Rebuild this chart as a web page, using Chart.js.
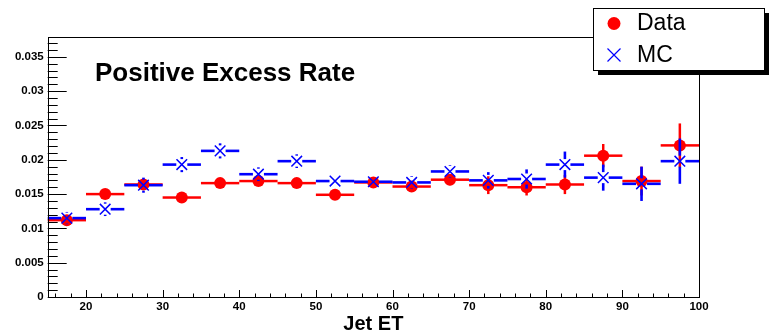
<!DOCTYPE html>
<html>
<head>
<meta charset="utf-8">
<script src="https://cdn.jsdelivr.net/npm/chart.js@4/dist/chart.umd.min.js"></script>
<style>
  html, body { margin: 0; padding: 0; background: #fff; }
  #wrap { width: 775px; height: 335px; position: relative; }
</style>
</head>
<body>
<div id="wrap"><canvas id="c" width="775" height="335"></canvas></div>
<script>
/* Positive excess rate vs Jet ET — Data vs MC, ROOT style */

var binCenters = [17.5, 22.5, 27.5, 32.5, 37.5, 42.5, 47.5, 52.5, 57.5, 62.5, 67.5, 72.5, 77.5, 82.5, 87.5, 92.5, 97.5];
var binHalfWidth = 2.5;

var dataRate = [0.0112, 0.0150, 0.0164, 0.0145, 0.0166, 0.0169, 0.0166, 0.0149, 0.0167, 0.0161, 0.0171, 0.0163, 0.0160, 0.0164, 0.0206, 0.0169, 0.0221];
var dataErr  = [0.0005, 0.0005, 0.0006, 0.0005, 0.0005, 0.0006, 0.0006, 0.0006, 0.0007, 0.0007, 0.0008, 0.0013, 0.0012, 0.0014, 0.0017, 0.0021, 0.0032];

var mcRate = [0.0115, 0.0128, 0.0163, 0.0193, 0.0213, 0.0179, 0.0198, 0.0169, 0.0168, 0.0167, 0.0183, 0.0170, 0.0172, 0.0193, 0.0174, 0.0165, 0.0198];
var mcErr  = [0.0009, 0.0010, 0.0011, 0.0011, 0.0011, 0.0010, 0.0010, 0.0008, 0.0008, 0.0009, 0.0009, 0.0012, 0.0014, 0.0019, 0.0019, 0.0025, 0.0033];

var xTickValues = [20, 30, 40, 50, 60, 70, 80, 90, 100];
var yTickValues = [0, 0.005, 0.01, 0.015, 0.02, 0.025, 0.03, 0.035];

var FONT = '"Liberation Sans", Arial, Helvetica, sans-serif';

function toPoints(ys) {
  return binCenters.map(function(x, i){ return { x: x, y: ys[i] }; });
}

// bin-width + vertical error bars, with a gap round the marker (like ROOT)
var errorBars = {
  id: 'errorBars',
  beforeDatasetDraw: function(chart, args) {
    var ds = chart.data.datasets[args.index];
    var xs = chart.scales.x, ys = chart.scales.y, ctx = chart.ctx;
    var gap = ds.errGap;
    function seg(a, b, c, d) { ctx.beginPath(); ctx.moveTo(a, b); ctx.lineTo(c, d); ctx.stroke(); }
    ctx.save();
    ctx.strokeStyle = ds.borderColor;
    ctx.lineWidth = ds.errWidth;
    ds.data.forEach(function(p, i) {
      var cx = xs.getPixelForValue(p.x), cy = ys.getPixelForValue(p.y);
      var x0 = xs.getPixelForValue(p.x - binHalfWidth), x1 = xs.getPixelForValue(p.x + binHalfWidth);
      var yTop = ys.getPixelForValue(p.y + ds.errors[i]), yBot = ys.getPixelForValue(p.y - ds.errors[i]);
      seg(x0, cy, cx - gap, cy);
      seg(cx + gap, cy, x1, cy);
      if (cy - gap > yTop) seg(cx, yTop, cx, cy - gap);
      if (yBot > cy + gap) seg(cx, cy + gap, cx, yBot);
    });
    ctx.restore();
  }
};

// frame, inward ticks, title and legend box
var rootFrame = {
  id: 'rootFrame',
  afterDraw: function(chart) {
    var ctx = chart.ctx, a = chart.chartArea;
    var xs = chart.scales.x, ys = chart.scales.y;
    var v, p;
    ctx.save();
    ctx.strokeStyle = '#000';
    ctx.lineWidth = 1;
    ctx.strokeRect(Math.round(a.left) + 0.5, Math.round(a.top) + 0.5, Math.round(a.right - a.left), Math.round(a.bottom - a.top));

    ctx.beginPath();
    for (v = 0; v <= ys.max + 1e-9; v += 0.001) {
      p = Math.round(ys.getPixelForValue(v)) + 0.5;
      var major = Math.abs(v / 0.005 - Math.round(v / 0.005)) < 1e-6;
      ctx.moveTo(a.left, p);
      ctx.lineTo(a.left + (major ? 19 : 10), p);
    }
    for (v = 16; v <= xs.max + 1e-9; v += 2) {
      p = Math.round(xs.getPixelForValue(v)) + 0.5;
      ctx.moveTo(p, a.bottom);
      ctx.lineTo(p, a.bottom - (v % 10 === 0 ? 7 : 3.5));
    }
    ctx.stroke();

    // title inside the frame
    ctx.fillStyle = '#000';
    ctx.font = 'bold 26px ' + FONT;
    ctx.textAlign = 'left';
    ctx.textBaseline = 'alphabetic';
    ctx.fillText('Positive Excess Rate', 95, 81);

    // legend with shadow
    ctx.fillStyle = '#000';
    ctx.fillRect(598, 13, 171, 62);
    ctx.fillStyle = '#fff';
    ctx.fillRect(593, 8, 171, 62);
    ctx.strokeRect(593.5, 8.5, 171, 62);

    var d0 = chart.data.datasets[0], d1 = chart.data.datasets[1];
    ctx.fillStyle = d0.backgroundColor;
    ctx.beginPath();
    ctx.arc(614, 23.5, 6.5, 0, Math.PI * 2);
    ctx.fill();

    ctx.strokeStyle = d1.borderColor;
    ctx.lineWidth = 1.2;
    ctx.beginPath();
    ctx.moveTo(607.5, 48.5); ctx.lineTo(620.5, 61.5);
    ctx.moveTo(620.5, 48.5); ctx.lineTo(607.5, 61.5);
    ctx.stroke();

    ctx.fillStyle = '#000';
    ctx.font = '23px ' + FONT;
    ctx.textBaseline = 'middle';
    ctx.fillText(d0.label, 637, 24);
    ctx.fillText(d1.label, 637, 56);
    ctx.restore();
  }
};

new Chart(document.getElementById('c'), {
  type: 'scatter',
  data: {
    datasets: [
      { label: 'Data', data: toPoints(dataRate), errors: dataErr,
        backgroundColor: '#ff0000', borderColor: '#ff0000', borderWidth: 0,
        pointStyle: 'circle', pointRadius: 6, pointHoverRadius: 6,
        errWidth: 2.5, errGap: 5, order: 2 },
      { label: 'MC', data: toPoints(mcRate), errors: mcErr,
        backgroundColor: '#0000ff', borderColor: '#0000ff', borderWidth: 1.5,
        pointStyle: 'crossRot', pointRadius: 7.5, pointHoverRadius: 7.5,
        errWidth: 2.6, errGap: 5.5, order: 1 }
    ]
  },
  options: {
    responsive: false,
    animation: false,
    events: [],
    layout: { padding: { left: 0, right: 76, top: 37, bottom: 0 } },
    plugins: { legend: { display: false }, tooltip: { enabled: false }, title: { display: false } },
    scales: {
      x: {
        type: 'linear', position: 'bottom', min: 15, max: 100,
        afterFit: function(s) { s.height = 38; },
        afterBuildTicks: function(s) { s.ticks = xTickValues.map(function(v){ return { value: v }; }); },
        grid: { display: false, drawTicks: false },
        border: { display: false },
        ticks: { padding: 3, maxRotation: 0, autoSkip: false, color: '#000',
                 font: { family: FONT, size: 11.5, weight: 'bold' } },
        title: { display: true, text: 'Jet ET', color: '#000', padding: 0,
                 font: { family: FONT, size: 20, weight: 'bold', lineHeight: 1.1 } }
      },
      y: {
        min: 0, max: 0.0379,
        afterFit: function(s) { s.width = 47.7; },
        afterBuildTicks: function(s) { s.ticks = yTickValues.map(function(v){ return { value: v }; }); },
        grid: { display: false, drawTicks: false },
        border: { display: false },
        ticks: { padding: 4, autoSkip: false, color: '#000',
                 font: { family: FONT, size: 11.5, weight: 'bold' },
                 callback: function(v) { return String(+v.toFixed(3)); } }
      }
    }
  },
  plugins: [errorBars, rootFrame]
});
</script>
</body>
</html>
